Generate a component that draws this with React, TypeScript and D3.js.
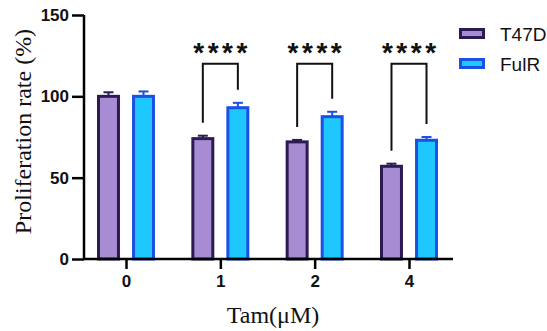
import React, { useRef, useEffect } from "react";
import * as d3 from "d3";

// doses on the x axis
const doses = ["0", "1", "2", "4"];
const series = ["T47D", "FulR"];
// mean proliferation (%) and error (SD) per dose
const t47dMeans = [100, 74, 72, 57];
const t47dErrors = [2.5, 1.8, 1.2, 1.6];
const fulrMeans = [100, 93, 87.5, 73];
const fulrErrors = [3, 3, 3, 2];
// significance brackets: dose, label
const sigDoses = ["1", "2", "4"];
const sigLabels = ["****", "****", "****"];
const yTicks = [0, 50, 100, 150];

const fills = { T47D: "#a78bd3", FulR: "#1ec8ff" };
const strokes = { T47D: "#2c1a52", FulR: "#1b4fe6" };

const sans = "Liberation Sans, Arial, sans-serif";
const serif = "Liberation Serif, Times New Roman, serif";

const App = () => {
  const svgRef = useRef<SVGSVGElement>(null);

  useEffect(() => {
    const svg = d3.select(svgRef.current);
    svg.selectAll("*").remove();

    const yScale = d3.scaleLinear().domain([0, 150]).range([259, 15]);
    const xScale = d3.scalePoint().domain(doses).range([126, 409]);
    const subScale = d3
      .scaleBand()
      .domain(series)
      .range([-27.5, 27.5])
      .paddingInner(0.43);

    const rows = doses.map((d, i) => ({
      dose: d,
      values: [
        { key: "T47D", mean: t47dMeans[i], err: t47dErrors[i] },
        { key: "FulR", mean: fulrMeans[i], err: fulrErrors[i] },
      ],
    }));

    // bars
    const groups = svg
      .append("g")
      .selectAll("g")
      .data(rows)
      .enter()
      .append("g")
      .attr("transform", (d) => `translate(${xScale(d.dose)},0)`);

    const items = groups
      .selectAll("g")
      .data((d) => d.values)
      .enter()
      .append("g");

    const mid = (k) => subScale(k)! + subScale.bandwidth() / 2;

    // error bars (upper only)
    items
      .append("line")
      .attr("x1", (d) => mid(d.key))
      .attr("x2", (d) => mid(d.key))
      .attr("y1", (d) => yScale(d.mean))
      .attr("y2", (d) => yScale(d.mean + d.err))
      .attr("stroke", (d) => strokes[d.key])
      .attr("stroke-width", 2);
    items
      .append("line")
      .attr("x1", (d) => mid(d.key) - 5)
      .attr("x2", (d) => mid(d.key) + 5)
      .attr("y1", (d) => yScale(d.mean + d.err))
      .attr("y2", (d) => yScale(d.mean + d.err))
      .attr("stroke", (d) => strokes[d.key])
      .attr("stroke-width", 2);

    items
      .append("rect")
      .attr("x", (d) => subScale(d.key)!)
      .attr("width", subScale.bandwidth())
      .attr("y", (d) => yScale(d.mean))
      .attr("height", (d) => yScale(0) - yScale(d.mean))
      .attr("fill", (d) => fills[d.key])
      .attr("stroke", (d) => strokes[d.key])
      .attr("stroke-width", 3);

    // significance brackets
    const bracketTop = 120;
    sigDoses.forEach((dose, k) => {
      const i = doses.indexOf(dose);
      const cx = xScale(dose)!;
      const xl = cx + mid("T47D");
      const xr = cx + mid("FulR");
      const yl = yScale(t47dMeans[i] + t47dErrors[i] + 8);
      const yr = yScale(fulrMeans[i] + fulrErrors[i] + 8);
      const yt = yScale(bracketTop);
      svg
        .append("path")
        .attr("d", `M${xl},${yl}V${yt}H${xr}V${yr}`)
        .attr("fill", "none")
        .attr("stroke", "#111")
        .attr("stroke-width", 2);
      svg
        .append("text")
        .attr("x", (xl + xr) / 2 + 1.75)
        .attr("y", 62)
        .attr("text-anchor", "middle")
        .attr("font-family", sans)
        .attr("font-weight", "bold")
        .attr("font-size", 28)
        .attr("letter-spacing", 3.5)
        .attr("fill", "#111")
        .text(sigLabels[k]);
    });

    // y axis
    const yAxis = d3.axisLeft(yScale).tickValues(yTicks).tickSize(12).tickPadding(3);
    const yg = svg.append("g").attr("transform", "translate(84,0)").call(yAxis);
    yg.select(".domain").attr("stroke-width", 2.5).attr("d", `M0,${yScale(150)}V${yScale(0)}`);
    yg.selectAll("line").attr("stroke-width", 2.5);
    yg.selectAll("text")
      .attr("font-family", sans)
      .attr("font-weight", "bold")
      .attr("font-size", 17)
      .attr("fill", "#111");

    // x axis
    const xAxis = d3.axisBottom(xScale).tickSize(10).tickPadding(6);
    const xg = svg.append("g").attr("transform", `translate(0,${yScale(0)})`).call(xAxis);
    xg.select(".domain").attr("stroke-width", 2.5).attr("d", "M84,0H453");
    xg.selectAll("line").attr("stroke-width", 2.5);
    xg.selectAll("text")
      .attr("font-family", sans)
      .attr("font-weight", "bold")
      .attr("font-size", 17)
      .attr("fill", "#111");

    // axis titles
    svg
      .append("text")
      .attr("transform", "translate(31,131.5) rotate(-90)")
      .attr("text-anchor", "middle")
      .attr("font-family", serif)
      .attr("font-size", 24)
      .attr("fill", "#111")
      .text("Proliferation rate (%)");
    svg
      .append("text")
      .attr("x", 273)
      .attr("y", 323)
      .attr("text-anchor", "middle")
      .attr("font-family", serif)
      .attr("font-size", 24)
      .attr("fill", "#111")
      .text("Tam(μM)");

    // legend
    const legend = svg
      .append("g")
      .selectAll("g")
      .data(series)
      .enter()
      .append("g")
      .attr("transform", (d, i) => `translate(460.5,${29.5 + i * 30})`);
    legend
      .append("rect")
      .attr("width", 23)
      .attr("height", 8)
      .attr("fill", (d) => fills[d])
      .attr("stroke", (d) => strokes[d])
      .attr("stroke-width", 3);
    legend
      .append("text")
      .attr("x", 39.5)
      .attr("y", 11)
      .attr("font-family", sans)
      .attr("font-size", 19)
      .attr("fill", "#111")
      .text((d) => d);
  }, []);

  return (
    <svg
      ref={svgRef}
      width={547}
      height={331}
      style={{ position: "absolute", left: 0, top: 0, background: "#fff" }}
    />
  );
};

export default App;
